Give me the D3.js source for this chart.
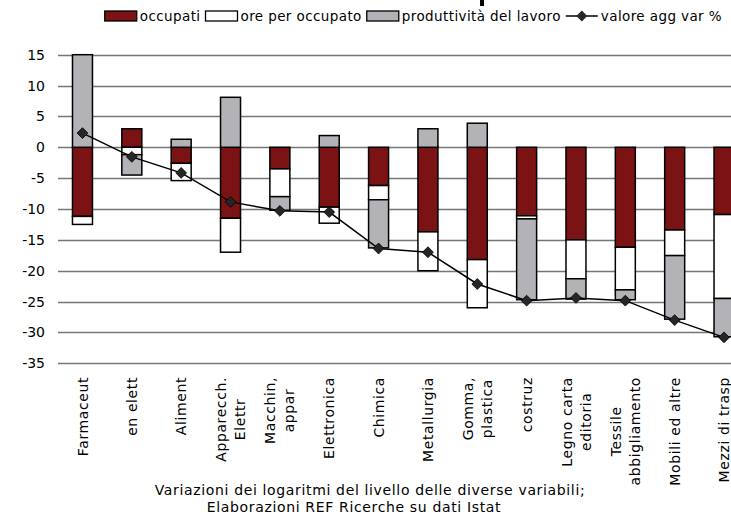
<!DOCTYPE html>
<html>
<head>
<meta charset="utf-8">
<script src="https://cdn.jsdelivr.net/npm/d3@7"></script>
<style>
  body { margin: 0; background: #fff; }
  text { font-family: "DejaVu Sans", Verdana, sans-serif; fill: #000; }
</style>
</head>
<body>
<svg id="chart"></svg>
<script>
// categories (multi-line labels split in arrays)
const categories = [
  ["Farmaceut"], ["en elett"], ["Aliment"], ["Apparecch.", "Elettr"], ["Macchin,", "appar"],
  ["Elettronica"], ["Chimica"], ["Metallurgia"], ["Gomma,", "plastica"], ["costruz"],
  ["Legno carta", "editoria"], ["Tessile", "abbigliamento"], ["Mobili ed altre"], ["Mezzi di trasp"]
]
const occupati = [-11.2, 3.0, -2.6, -11.5, -3.5, -9.7, -6.2, -13.7, -18.2, -11.1, -15.0, -16.2, -13.4, -10.9]
const orePerOccupato = [-1.3, -1.2, -2.8, -5.5, -4.5, -2.6, -2.3, -6.3, -7.8, -0.5, -6.3, -6.9, -4.15, -13.6]
const produttivita = [15.0, -3.3, 1.3, 8.1, -2.2, 1.9, -7.8, 3.0, 3.9, -13.1, -3.3, -1.6, -10.3, -6.2]
const valoreAgg = [2.3, -1.55, -4.15, -8.85, -10.3, -10.5, -16.4, -17.0, -22.15, -24.85, -24.4, -24.85, -28.0, -30.8]
const yTicks = [15, 10, 5, 0, -5, -10, -15, -20, -25, -30, -35]
const seriesNames = ["occupati", "ore per occupato", "produttività del lavoro"]
const lineName = "valore agg var %"
const footer = ["Variazioni dei logaritmi del livello delle diverse variabili;", "Elaborazioni REF Ricerche su dati Istat"]

const width = 731, height = 516
const colors = ["#7b1315", "#ffffff", "#b3b3b7"]
const spacing = "0.6px"

const svg = d3.select("#chart")
    .attr("width", width)
    .attr("height", height)

const keys = categories.map(d => d.join(" "))
const x = d3.scaleBand()
    .domain(keys)
    .range([57.8, 748.7])
    .paddingInner(0.595)
    .paddingOuter(0.2975)

const y = d3.scaleLinear()
    .domain([-35, 15])
    .range([363.3, 54.7])

// gridlines + y labels
svg.append("g")
  .selectAll("line")
  .data(yTicks)
  .enter()
  .append("line")
    .attr("x1", 58)
    .attr("x2", width)
    .attr("y1", d => Math.round(y(d)) + 0.5)
    .attr("y2", d => Math.round(y(d)) + 0.5)
    .attr("stroke", "#767676")
    .attr("stroke-width", 1.3)

svg.append("g")
  .selectAll("text")
  .data(yTicks)
  .enter()
  .append("text")
    .attr("x", 45)
    .attr("y", d => y(d))
    .attr("dy", "0.36em")
    .attr("text-anchor", "end")
    .style("font-size", "14px")
    .text(d => d)

// stacked bars, positives up from 0 and negatives down from 0
const series = [occupati, orePerOccupato, produttivita]
const stacked = []
keys.forEach((k, i) => {
  let pos = 0, neg = 0
  series.forEach((s, j) => {
    const v = s[i]
    if (v >= 0) { stacked.push({ key: k, j: j, y0: pos, y1: pos + v }); pos += v }
    else { stacked.push({ key: k, j: j, y0: neg, y1: neg + v }); neg += v }
  })
})

svg.append("g")
  .selectAll("rect")
  .data(stacked)
  .enter()
  .append("rect")
    .attr("x", d => x(d.key))
    .attr("width", x.bandwidth())
    .attr("y", d => y(Math.max(d.y0, d.y1)))
    .attr("height", d => Math.abs(y(d.y0) - y(d.y1)))
    .attr("fill", d => colors[d.j])
    .attr("stroke", "#000")
    .attr("stroke-width", 1.5)

// line with diamonds
const line = d3.line()
    .x((d, i) => x(keys[i]) + x.bandwidth() / 2)
    .y(d => y(d))

svg.append("path")
    .datum(valoreAgg)
    .attr("d", line)
    .attr("fill", "none")
    .attr("stroke", "#000")
    .attr("stroke-width", 1.5)

const diamond = d3.symbol().type(d3.symbolDiamond2).size(75)
svg.append("g")
  .selectAll("path")
  .data(valoreAgg)
  .enter()
  .append("path")
    .attr("d", diamond)
    .attr("transform", (d, i) => "translate(" + (x(keys[i]) + x.bandwidth() / 2) + "," + y(d) + ")")
    .attr("fill", "#262626")
    .attr("stroke", "#000")
    .attr("stroke-width", 0.8)

// x labels, rotated, lines centred on each other
const labelTop = 377
categories.forEach((lines, i) => {
  const cx = x(keys[i]) + x.bandwidth() / 2
  const g = svg.append("g")
  const texts = lines.map((t, k) => g.append("text")
      .style("font-size", "14px")
      .style("letter-spacing", spacing)
      .attr("text-anchor", "middle")
      .text(t))
  const maxLen = d3.max(texts, t => t.node().getComputedTextLength())
  const lh = 19
  texts.forEach((t, k) => {
    const off = (k - (lines.length - 1) / 2) * lh
    t.attr("transform", "translate(" + (cx + off) + "," + (labelTop + maxLen / 2) + ") rotate(-90)")
     .attr("dy", "0.36em")
  })
})

// footer
svg.append("text")
    .attr("x", 370).attr("y", 495)
    .attr("text-anchor", "middle")
    .style("font-size", "14px")
    .style("letter-spacing", "0.65px")
    .text(footer[0])
svg.append("text")
    .attr("x", 354).attr("y", 512)
    .attr("text-anchor", "middle")
    .style("font-size", "14px")
    .style("letter-spacing", "0.65px")
    .text(footer[1])

// remnant of the cropped title at the top edge
svg.append("rect")
    .attr("x", 480).attr("y", 0)
    .attr("width", 4).attr("height", 6)
    .attr("fill", "#000")

// legend, laid out right to left so it ends at x=722
const legend = svg.append("g")
const ly = 16
const items = seriesNames.map((n, j) => ({ name: n, j: j })).concat([{ name: lineName, j: -1 }])
let rx = 722
items.slice().reverse().forEach(it => {
  const t = legend.append("text")
      .attr("y", ly)
      .attr("dy", "0.36em")
      .attr("text-anchor", "end")
      .style("font-size", "13.5px")
      .style("letter-spacing", "0.4px")
      .attr("x", rx)
      .text(it.name)
  const tl = t.node().getComputedTextLength()
  const sx = rx - tl - 35
  if (it.j >= 0) {
    legend.append("rect")
        .attr("x", sx).attr("y", ly - 5)
        .attr("width", 32).attr("height", 10)
        .attr("fill", colors[it.j])
        .attr("stroke", "#000")
        .attr("stroke-width", 1.3)
  } else {
    legend.append("line")
        .attr("x1", sx).attr("x2", sx + 32)
        .attr("y1", ly).attr("y2", ly)
        .attr("stroke", "#000")
        .attr("stroke-width", 1.5)
    legend.append("path")
        .attr("d", diamond)
        .attr("transform", "translate(" + (sx + 16) + "," + ly + ")")
        .attr("fill", "#262626")
  }
  rx = sx - 5
})
</script>
</body>
</html>
